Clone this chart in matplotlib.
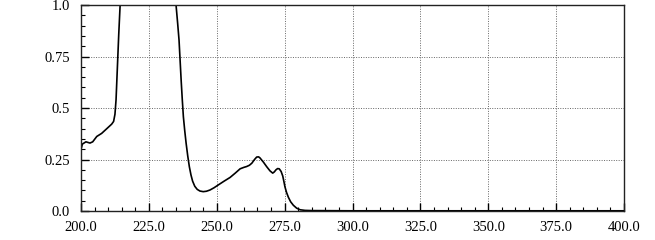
import matplotlib
matplotlib.use('Agg')
import matplotlib.pyplot as plt
from matplotlib.ticker import MultipleLocator, FixedLocator

# absorption spectrum (wavelength, absorbance)
wavelength = [200.0, 200.5, 201.8, 203.3, 204.3, 205.8, 207.6, 209.5, 211.3,
              212.0, 212.5, 212.9, 213.4, 213.9, 214.4, 216.0, 225.0, 234.0,
              235.0, 235.6, 236.1, 236.5, 236.9, 237.3, 237.7, 238.2, 238.7,
              239.3, 239.9, 240.5, 241.1, 241.9, 242.8, 243.8, 245.0, 246.2,
              247.5, 249.0, 250.6, 252.7, 254.9, 256.8, 258.6, 260.0, 261.0,
              262.0, 262.9, 263.9, 264.7, 265.4, 265.9, 267.2, 268.4, 269.6,
              270.6, 271.2, 271.8, 272.4, 273.0, 273.7, 274.3, 274.7, 275.1,
              275.7, 276.4, 277.2, 278.2, 279.4, 280.7, 282.5, 285.0, 300.0,
              350.0, 400.0]
absorbance = [0.300, 0.325, 0.336, 0.330, 0.336, 0.362, 0.377, 0.400, 0.422,
              0.435, 0.470, 0.540, 0.700, 0.860, 1.000, 1.300, 2.000, 1.300,
              1.000, 0.910, 0.830, 0.730, 0.630, 0.540, 0.458, 0.390, 0.330,
              0.268, 0.215, 0.175, 0.145, 0.120, 0.105, 0.097, 0.094, 0.096,
              0.102, 0.113, 0.127, 0.145, 0.163, 0.184, 0.205, 0.212, 0.216,
              0.222, 0.232, 0.250, 0.262, 0.263, 0.258, 0.237, 0.215, 0.195,
              0.184, 0.190, 0.200, 0.206, 0.205, 0.192, 0.170, 0.145, 0.118,
              0.090, 0.066, 0.045, 0.028, 0.014, 0.006, 0.003, 0.002, 0.001,
              0.001, 0.001]

xticks = [200.0, 225.0, 250.0, 275.0, 300.0, 325.0, 350.0, 375.0, 400.0]
yticks = [0.0, 0.25, 0.5, 0.75, 1.0]
ytick_labels = ['0.0', '0.25', '0.5', '0.75', '1.0']

plt.rcParams['font.family'] = ['Liberation Serif', 'DejaVu Serif']

fig = plt.figure(figsize=(6.55, 2.4), dpi=100)
ax = fig.add_axes([0.1237, 0.1208, 0.829, 0.858])

ax.plot(wavelength, absorbance, color='black', lw=1.2)

ax.set_xlim(200, 400)
ax.set_ylim(0, 1.0)
ax.xaxis.set_major_locator(FixedLocator(xticks))
ax.set_xticklabels(['%.1f' % v for v in xticks])
ax.yaxis.set_major_locator(FixedLocator(yticks))
ax.set_yticklabels(ytick_labels)
ax.xaxis.set_minor_locator(MultipleLocator(5))
ax.yaxis.set_minor_locator(MultipleLocator(0.05))

ax.grid(True, which='major', color='#666666', ls=(0, (1, 1.5)), lw=0.7)
ax.tick_params(which='both', direction='in', top=False, right=False,
               labelsize=10.5, colors='black')
ax.tick_params(which='major', length=6, width=1)
ax.tick_params(which='minor', length=3, width=0.8)
ax.tick_params(axis='x', which='major', pad=7)
ax.tick_params(axis='y', which='major', pad=8)
for s in ax.spines.values():
    s.set_linewidth(1.0)
    s.set_color('#222222')

plt.savefig('out.png', dpi=100)
